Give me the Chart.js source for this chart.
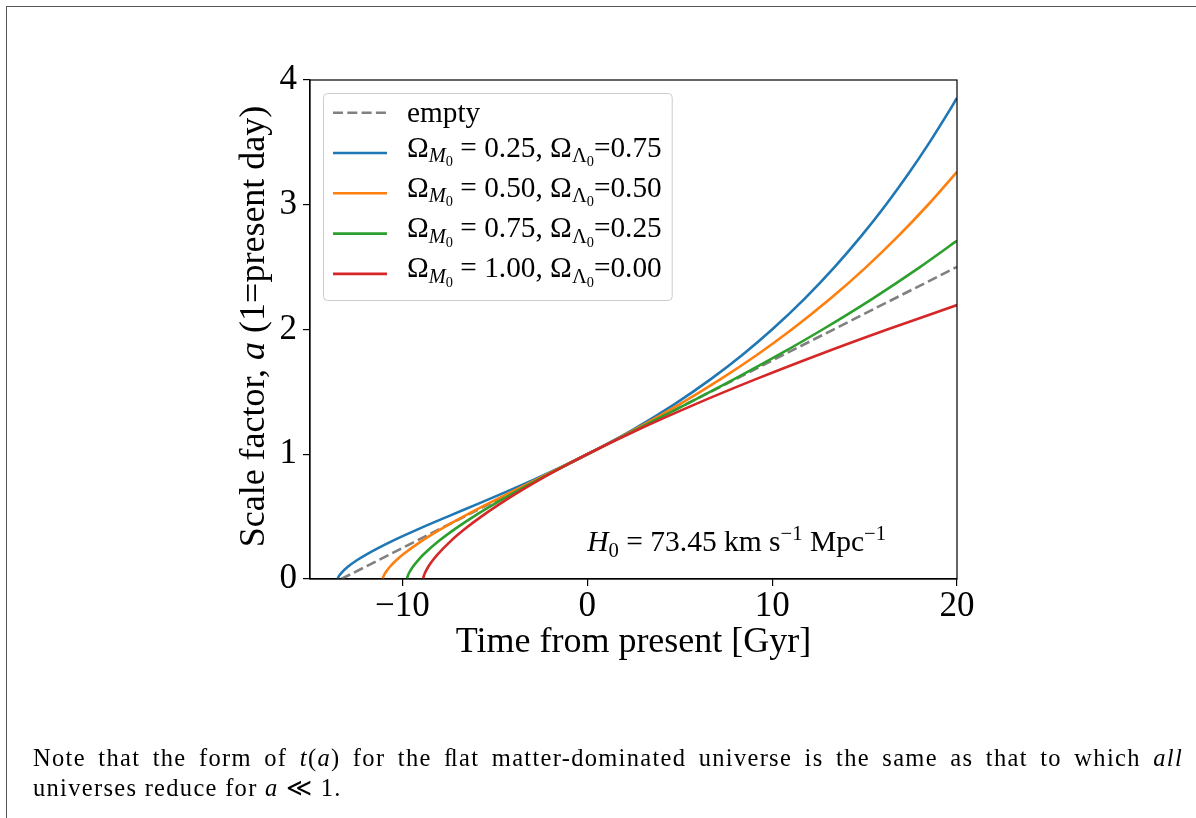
<!DOCTYPE html>
<html>
<head>
<meta charset="utf-8">
<script src="https://cdn.jsdelivr.net/npm/chart.js@4.4.1/dist/chart.umd.min.js"></script>
<style>
html,body{margin:0;padding:0;background:#fff;width:1196px;height:818px;overflow:hidden;}
#c{position:absolute;left:0;top:0;}
#frame{position:absolute;left:6px;top:6px;width:1400px;height:1000px;border-left:1px solid #555;border-top:1px solid #555;}
.note{position:absolute;left:33px;font-family:"Liberation Serif",serif;font-size:24.5px;letter-spacing:1.3px;line-height:30px;color:#000;}
#l1{top:743px;width:1150px;text-align:justify;text-align-last:justify;}
#l2{top:773px;white-space:nowrap;}
</style>
</head>
<body>
<div id="frame"></div>
<canvas id="c" width="1196" height="818"></canvas>
<div class="note" id="l1">Note that the form of <i>t</i>(<i>a</i>) for the ﬂat matter-dominated universe is the same as that to which <i>all</i></div>
<div class="note" id="l2">universes reduce for <i>a</i> ≪ 1.</div>
<script>
// ---------------- data ----------------
const timeTicks = [-10, 0, 10, 20];
const scaleTicks = [0, 1, 2, 3, 4];

const seriesLabels = [
  'empty',
  'Ω_{*M*_0} = 0.25, Ω_{Λ_0}=0.75',
  'Ω_{*M*_0} = 0.50, Ω_{Λ_0}=0.50',
  'Ω_{*M*_0} = 0.75, Ω_{Λ_0}=0.25',
  'Ω_{*M*_0} = 1.00, Ω_{Λ_0}=0.00'
];
const xTitle = 'Time from present [Gyr]';
const yTitle = 'Scale factor, *a* (1=present day)';
const h0Label = '*H*_0 = 73.45 km s^{−1} Mpc^{−1}';

// empty universe
const emptyT = [-13.31, 20.0];
const emptyA = [0, 2.502];

// Omega_M = 0.25, Omega_L = 0.75
const m25T = [-13.496, -13.478, -13.446, -13.404, -13.298, -12.935, -12.467, -11.915, -10.618, -9.138, -7.558, -5.948, -4.360, -2.829, -1.373, 0, 2.501, 4.706, 6.664, 8.416, 9.997, 11.776, 13.376, 14.828, 16.156, 17.380, 18.514, 19.571, 20.0];
const m25A = [0, 0.01, 0.02, 0.03, 0.05, 0.1, 0.15, 0.2, 0.3, 0.4, 0.5, 0.6, 0.7, 0.8, 0.9, 1.0, 1.2, 1.4, 1.6, 1.8, 2.0, 2.25, 2.5, 2.75, 3.0, 3.25, 3.5, 3.75, 3.857];

// Omega_M = 0.50, Omega_L = 0.50
const m50T = [-11.062, -11.050, -11.027, -10.997, -10.922, -10.665, -10.333, -9.941, -9.009, -7.920, -6.712, -5.421, -4.078, -2.711, -1.346, 0, 2.584, 4.985, 7.190, 9.210, 11.062, 13.172, 15.085, 16.831, 18.436, 19.918, 20.0];
const m50A = [0, 0.01, 0.02, 0.03, 0.05, 0.1, 0.15, 0.2, 0.3, 0.4, 0.5, 0.6, 0.7, 0.8, 0.9, 1.0, 1.2, 1.4, 1.6, 1.8, 2.0, 2.25, 2.5, 2.75, 3.0, 3.25, 3.264];

// Omega_M = 0.75, Omega_L = 0.25
const m75T = [-9.750, -9.740, -9.721, -9.697, -9.636, -9.426, -9.155, -8.834, -8.069, -7.167, -6.152, -5.043, -3.857, -2.611, -1.321, 0, 2.680, 5.341, 7.922, 10.390, 12.727, 15.462, 17.996, 19.889, 20.0];
const m75A = [0, 0.01, 0.02, 0.03, 0.05, 0.1, 0.15, 0.2, 0.3, 0.4, 0.5, 0.6, 0.7, 0.8, 0.9, 1.0, 1.2, 1.4, 1.6, 1.8, 2.0, 2.25, 2.5, 2.7, 2.712];

// Omega_M = 1.00, Omega_L = 0.00
const m100T = [-8.875, -8.866, -8.850, -8.829, -8.776, -8.594, -8.359, -8.081, -7.417, -6.630, -5.737, -4.750, -3.677, -2.525, -1.297, 0, 2.792, 5.826, 9.087, 12.557, 16.227, 20.0];
const m100A = [0, 0.01, 0.02, 0.03, 0.05, 0.1, 0.15, 0.2, 0.3, 0.4, 0.5, 0.6, 0.7, 0.8, 0.9, 1.0, 1.2, 1.4, 1.6, 1.8, 2.0, 2.196];

const seriesT = [emptyT, m25T, m50T, m75T, m100T];
const seriesA = [emptyA, m25A, m50A, m75A, m100A];

// ---------------- styles ----------------
const seriesColors = ['#808080', '#1f77b4', '#ff7f0e', '#2ca02c', '#d62728'];
const FAM = '"Liberation Serif", "Times New Roman", serif';

// ---------------- rich text helpers ----------------
function parseRich(s) {
  const runs = [];
  function walk(str, scale, dy, italic) {
    let i = 0, buf = '';
    const flush = () => { if (buf) { runs.push({t: buf, scale, dy, italic}); buf = ''; } };
    while (i < str.length) {
      const c = str[i];
      if (c === '*') { flush(); italic = !italic; i++; continue; }
      if (c === '_' || c === '^') {
        flush();
        let grp;
        if (str[i + 1] === '{') {
          let depth = 0, j = i + 1;
          for (; j < str.length; j++) {
            if (str[j] === '{') depth++;
            else if (str[j] === '}') { depth--; if (depth === 0) break; }
          }
          grp = str.slice(i + 2, j); i = j + 1;
        } else { grp = str[i + 1]; i += 2; }
        const ndy = dy + (c === '_' ? 0.19 * scale : -0.36 * scale);
        walk(grp, scale * 0.7, ndy, italic);
        continue;
      }
      buf += c; i++;
    }
    flush();
  }
  walk(s, 1, 0, false);
  return runs;
}
function richFont(r, size) { return (r.italic ? 'italic ' : '') + (size * r.scale) + 'px ' + FAM; }
function measureRich(ctx, runs, size) {
  let w = 0;
  for (const r of runs) { ctx.font = richFont(r, size); w += ctx.measureText(r.t).width; }
  return w;
}
function drawRich(ctx, runs, x, y, size) {
  let cx = x;
  ctx.textAlign = 'left';
  ctx.textBaseline = 'alphabetic';
  for (const r of runs) {
    ctx.font = richFont(r, size);
    ctx.fillText(r.t, cx, y + r.dy * size);
    cx += ctx.measureText(r.t).width;
  }
  return cx - x;
}

// ---------------- plugins ----------------
const framePlugin = {
  id: 'frameBox',
  afterDatasetsDraw(chart) {
    const {ctx, chartArea: a} = chart;
    ctx.save();
    ctx.strokeStyle = '#000';
    ctx.lineWidth = 1.2;
    ctx.strokeRect(a.left, a.top, a.right - a.left, a.bottom - a.top);
    ctx.restore();
  }
};

const annotationPlugin = {
  id: 'h0Text',
  afterDatasetsDraw(chart) {
    const {ctx, scales} = chart;
    const x = scales.x.getPixelForValue(0);
    const y = scales.y.getPixelForValue(0.225);
    ctx.save();
    ctx.fillStyle = '#000';
    drawRich(ctx, parseRich(h0Label), x, y, 29.5);
    ctx.restore();
  }
};

const yTitlePlugin = {
  id: 'yTitleRich',
  afterDraw(chart) {
    const {ctx, chartArea: a} = chart;
    const runs = parseRich(yTitle);
    const size = 36;
    ctx.save();
    ctx.fillStyle = '#000';
    const w = measureRich(ctx, runs, size);
    ctx.translate(264, (a.top + a.bottom) / 2 - 3);
    ctx.rotate(-Math.PI / 2);
    drawRich(ctx, runs, -w / 2, 0, size);
    ctx.restore();
  }
};

const legendPlugin = {
  id: 'richLegend',
  afterDatasetsDraw(chart) {
    const {ctx, chartArea: a} = chart;
    const fs = 29.3;
    const L = a.left + 13, T = a.top + 13;
    const rows = chart.data.datasets.map((ds, i) => ({ds, runs: parseRich(seriesLabels[i])}));
    let maxW = 0;
    rows.forEach(r => { maxW = Math.max(maxW, measureRich(ctx, r.runs, fs)); });
    const W = maxW + 84 + 10, H = 207;
    ctx.save();
    ctx.beginPath();
    ctx.roundRect(L + 0.5, T + 0.5, W, H, 4);
    ctx.fillStyle = 'rgba(255,255,255,0.8)';
    ctx.fill();
    ctx.strokeStyle = '#cccccc';
    ctx.lineWidth = 1;
    ctx.stroke();
    rows.forEach((r, i) => {
      const y = T + 19.7 + i * 40.3;
      ctx.beginPath();
      ctx.setLineDash(r.ds.borderDash || []);
      ctx.strokeStyle = r.ds.borderColor;
      ctx.lineWidth = r.ds.borderWidth;
      ctx.moveTo(L + 10, y);
      ctx.lineTo(L + 64, y);
      ctx.stroke();
      ctx.setLineDash([]);
      ctx.fillStyle = '#000';
      const hasScript = r.runs.some(q => q.scale < 1);
      drawRich(ctx, r.runs, L + 84, y + (hasScript ? 3.5 : 9), fs);
    });
    ctx.restore();
  }
};

// ---------------- chart ----------------
const datasets = seriesT.map((ts, k) => ({
  label: seriesLabels[k].replace(/[*{}]/g, '').replace(/_/g, ''),
  data: ts.map((t, i) => ({x: t, y: seriesA[k][i]})),
  showLine: true,
  borderColor: seriesColors[k],
  backgroundColor: seriesColors[k],
  borderWidth: 2.6,
  borderDash: k === 0 ? [10, 4.3] : [],
  pointRadius: 0,
  pointHoverRadius: 0,
  cubicInterpolationMode: k === 0 ? 'default' : 'monotone',
  tension: 0,
  fill: false,
  order: 5 - k
}));

const fmt = v => (v < 0 ? '\u2212' + Math.abs(v) : String(v));

new Chart(document.getElementById('c'), {
  type: 'scatter',
  data: {datasets},
  options: {
    responsive: false,
    devicePixelRatio: 1,
    animation: false,
    events: [],
    layout: {padding: {left: 0, top: 80, right: 239, bottom: 139}},
    plugins: {legend: {display: false}, tooltip: {enabled: false}, title: {display: false}},
    scales: {
      x: {
        type: 'linear',
        min: -15, max: 20,
        afterBuildTicks: s => { s.ticks = timeTicks.map(v => ({value: v})); },
        afterFit: s => { s.height = 100; },
        ticks: {font: {family: FAM, size: 35}, color: '#000', padding: 0, maxRotation: 0, callback: fmt},
        grid: {drawOnChartArea: false, drawTicks: true, tickLength: 7, color: '#000', lineWidth: 1.2},
        border: {display: true, color: '#000', width: 1.2},
        title: {display: true, text: xTitle, font: {family: FAM, size: 36}, color: '#000', padding: {top: 0, bottom: 15}}
      },
      y: {
        type: 'linear',
        min: 0, max: 4,
        afterBuildTicks: s => { s.ticks = scaleTicks.map(v => ({value: v})); },
        afterFit: s => { s.width = 310; },
        ticks: {font: {family: FAM, size: 35}, color: '#000', padding: 6, callback: fmt},
        grid: {drawOnChartArea: false, drawTicks: true, tickLength: 7, color: '#000', lineWidth: 1.2},
        border: {display: true, color: '#000', width: 1.2},
        title: {display: false}
      }
    }
  },
  plugins: [framePlugin, annotationPlugin, legendPlugin, yTitlePlugin]
});
</script>
</body>
</html>
